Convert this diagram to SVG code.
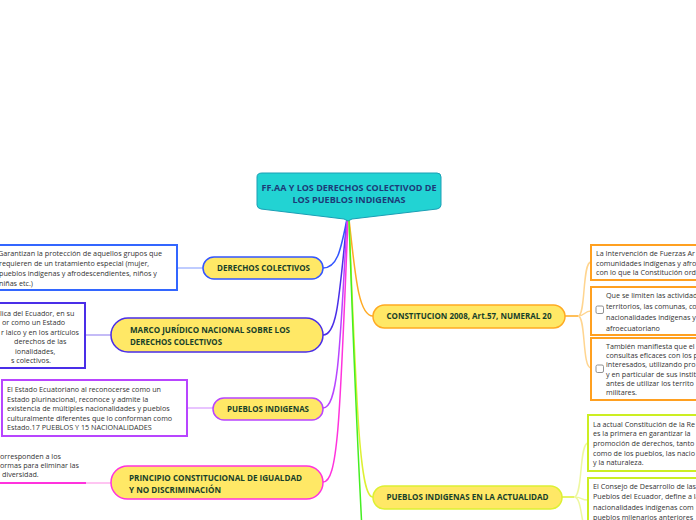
<svg xmlns="http://www.w3.org/2000/svg" width="696" height="520" viewBox="0 0 696 520">
<style>
.bg{fill:#ffffff}
.pill{fill:#FFE866;stroke-width:1.5}
.nt{font-family:"Open Sans","Noto Sans",sans-serif;font-weight:bold;font-size:8.2px;fill:#17402a}
.ct{font-family:"Open Sans","Noto Sans",sans-serif;font-weight:bold;font-size:9px;fill:#1d3a78}
.bt{font-family:"Open Sans","Noto Sans",sans-serif;font-size:7.2px;fill:#333333}
.box{fill:#ffffff;stroke-width:2}
.cb{fill:#ffffff;stroke:#777777;stroke-width:0.8}
.ln{fill:none;stroke-width:1.5}
</style>
<rect class="bg" x="0" y="0" width="696" height="520"/>

<g id="connectors">
  <path class="ln" d="M347,219 C341,248 338,268 323,268" stroke="#3355ff"/>
  <path class="ln" d="M347,219 C339,300 337,335 323,335" stroke="#4a2ee8"/>
  <path class="ln" d="M347,219 C340,350 338,408 323,408" stroke="#b845ff"/>
  <path class="ln" d="M348,219 C340,420 338,482 323,482" stroke="#ff33dd"/>
  <path class="ln" d="M349,219 C355,272 358,316 373,316" stroke="#ffaa22"/>
  <path class="ln" d="M349,219 C357,420 360,497 373,497" stroke="#ddf033"/>
  <path class="ln" d="M349,219 C355,400 359,470 362,530" stroke="#44ee22"/>
  <!-- box links left -->
  <path class="ln" d="M177,268 L203,268" stroke="#aabbff"/>
  <path class="ln" d="M85,335 L111,335" stroke="#b0a4f4"/>
  <path class="ln" d="M187,408 L213,408" stroke="#e0b0ff"/>
  <path class="ln" d="M86,483 L111,483" stroke="#ffb0ee"/>
  <path d="M0,483 L86,483" stroke="#ff33dd" stroke-width="2" fill="none"/>
  <!-- box links right -->
  <path class="ln" d="M565,316 L578,316" stroke="#ffaa22"/>
  <path class="ln" d="M578,316 C586,316 582,262 591,262 M578,316 C585,316 584,311 591,311 M578,316 C586,316 582,368 591,368" stroke="#ffd590"/>
  <path class="ln" d="M562,497 L574,497" stroke="#ddf033"/>
  <path class="ln" d="M574,497 C583,497 579,443 588,443 M574,497 C583,497 580,500 588,500 M574,497 C583,497 580,530 588,530" stroke="#eef8a0"/>
</g>

<g id="central">
  <path d="M262,173 L437,173 Q441,173 441,177 L441,205 Q441,208 437,209 L352,219 L348,221 L344,219 L261,209 Q257,208 257,205 L257,177 Q257,173 262,173 Z" fill="#22D3D3" stroke="#1a9fb5" stroke-width="1"/>
  <text class="ct" x="349" y="191" text-anchor="middle" textLength="175" lengthAdjust="spacingAndGlyphs">FF.AA Y LOS DERECHOS COLECTIVOD DE</text>
  <text class="ct" x="349" y="203" text-anchor="middle" textLength="113" lengthAdjust="spacingAndGlyphs">LOS PUEBLOS INDIGENAS</text>
</g>

<g id="n-derechos">
  <rect class="pill" x="203" y="257" width="120" height="22" rx="11" stroke="#3355ff"/>
  <text class="nt" x="263.5" y="271" text-anchor="middle" textLength="93" lengthAdjust="spacingAndGlyphs">DERECHOS COLECTIVOS</text>
</g>
<g id="b-derechos">
  <rect class="box" x="-5" y="245" width="182" height="45" stroke="#3366ff"/>
  <text class="bt" x="-2" y="256" textLength="164" lengthAdjust="spacingAndGlyphs">Garantizan la protección de aquellos grupos que</text>
  <text class="bt" x="-1" y="266">requieren de un tratamiento especial (mujer,</text>
  <text class="bt" x="-1" y="276">pueblos indígenas y afrodescendientes, niños y</text>
  <text class="bt" x="-1" y="286">niñas etc.)</text>
</g>

<g id="n-marco">
  <rect class="pill" x="111" y="318" width="212" height="34" rx="17" stroke="#4a2ee8"/>
  <text class="nt" x="130" y="333" textLength="160" lengthAdjust="spacingAndGlyphs">MARCO JURÍDICO NACIONAL SOBRE LOS</text>
  <text class="nt" x="130" y="345" textLength="92" lengthAdjust="spacingAndGlyphs">DERECHOS COLECTIVOS</text>
</g>
<g id="b-marco">
  <rect class="box" x="-5" y="303" width="90" height="65" stroke="#4a2ee8"/>
  <text class="bt" x="0" y="316">lica del Ecuador, en su</text>
  <text class="bt" x="2" y="325">or como un Estado</text>
  <text class="bt" x="1" y="335">r laico y en los artículos</text>
  <text class="bt" x="14" y="344">derechos de las</text>
  <text class="bt" x="15" y="354">ionalidades,</text>
  <text class="bt" x="11" y="363">s colectivos.</text>
</g>

<g id="n-pueblos">
  <rect class="pill" x="213" y="398" width="110" height="22" rx="11" stroke="#b845ff"/>
  <text class="nt" x="268" y="412" text-anchor="middle" textLength="82" lengthAdjust="spacingAndGlyphs">PUEBLOS INDIGENAS</text>
</g>
<g id="b-pueblos">
  <rect class="box" x="2" y="380" width="185" height="56" stroke="#b845ff"/>
  <text class="bt" x="7" y="392" textLength="154" lengthAdjust="spacingAndGlyphs">El Estado Ecuatoriano al reconocerse como un</text>
  <text class="bt" x="7" y="401.5">Estado plurinacional, reconoce y admite la</text>
  <text class="bt" x="7" y="411">existencia de múltiples nacionalidades y pueblos</text>
  <text class="bt" x="7" y="420.5">culturalmente diferentes que lo conforman como</text>
  <text class="bt" x="7" y="430">Estado.17 PUEBLOS Y 15 NACIONALIDADES</text>
</g>

<g id="n-principio">
  <rect class="pill" x="111" y="466" width="212" height="33" rx="16.5" stroke="#ff33dd"/>
  <text class="nt" x="129" y="481" textLength="173" lengthAdjust="spacingAndGlyphs">PRINCIPIO CONSTITUCIONAL DE IGUALDAD</text>
  <text class="nt" x="129" y="493" textLength="92" lengthAdjust="spacingAndGlyphs">Y NO DISCRIMINACIÓN</text>
</g>
<g id="b-principio">
  <text class="bt" x="0" y="459">orresponden a los</text>
  <text class="bt" x="0" y="468">ormas para eliminar las</text>
  <text class="bt" x="2" y="477">diversidad.</text>
</g>

<g id="n-constitucion">
  <rect class="pill" x="373" y="305" width="192" height="23" rx="11.5" stroke="#ffaa22"/>
  <text class="nt" x="469" y="319" text-anchor="middle" textLength="165" lengthAdjust="spacingAndGlyphs">CONSTITUCION 2008, Art.57, NUMERAL 20</text>
</g>
<g id="b-const1">
  <rect class="box" x="591" y="245" width="110" height="35" stroke="#ffa020"/>
  <text class="bt" x="596" y="256">La Intervención de Fuerzas Ar</text>
  <text class="bt" x="596" y="265.5">comunidades indígenas y afro</text>
  <text class="bt" x="596" y="275">con lo que la Constitución ord</text>
</g>
<g id="b-const2">
  <rect class="box" x="591" y="287" width="110" height="48" stroke="#ffa020"/>
  <rect class="cb" x="596" y="306" width="7.5" height="7.5" rx="1.5"/>
  <text class="bt" x="606" y="298">Que se limiten las actividad</text>
  <text class="bt" x="606" y="309">territorios, las comunas, co</text>
  <text class="bt" x="606" y="320">nacionalidades indígenas y</text>
  <text class="bt" x="606" y="331">afroecuatoriano</text>
</g>
<g id="b-const3">
  <rect class="box" x="591" y="338" width="110" height="62" stroke="#ffa020"/>
  <rect class="cb" x="596" y="365" width="7.5" height="7.5" rx="1.5"/>
  <text class="bt" x="606" y="349">También manifiesta que el</text>
  <text class="bt" x="606" y="358">consultas eficaces con los p</text>
  <text class="bt" x="606" y="367">interesados, utilizando pro</text>
  <text class="bt" x="606" y="376.5">y en particular de sus instit</text>
  <text class="bt" x="606" y="386">antes de utilizar los territo</text>
  <text class="bt" x="606" y="395">militares.</text>
</g>

<g id="n-actualidad">
  <rect class="pill" x="373" y="486" width="189" height="23" rx="11.5" stroke="#ddf033"/>
  <text class="nt" x="467.5" y="500" text-anchor="middle" textLength="162" lengthAdjust="spacingAndGlyphs">PUEBLOS INDIGENAS EN LA ACTUALIDAD</text>
</g>
<g id="b-act1">
  <rect class="box" x="588" y="415" width="113" height="56" stroke="#ccee22"/>
  <text class="bt" x="593" y="426.5">La actual Constitución de la Re</text>
  <text class="bt" x="593" y="436">es la primera en garantizar la</text>
  <text class="bt" x="593" y="446">promoción de derechos, tanto</text>
  <text class="bt" x="593" y="455.5">como de los pueblos, las nacio</text>
  <text class="bt" x="593" y="465">y la naturaleza.</text>
</g>
<g id="b-act2">
  <rect class="box" x="588" y="478" width="113" height="60" stroke="#ccee22"/>
  <text class="bt" x="593" y="489">El Consejo de Desarrollo de las</text>
  <text class="bt" x="593" y="499">Pueblos del Ecuador, define a la</text>
  <text class="bt" x="593" y="509.5">nacionalidades indígenas com</text>
  <text class="bt" x="593" y="520">pueblos milenarios anteriores</text>
</g>
</svg>
